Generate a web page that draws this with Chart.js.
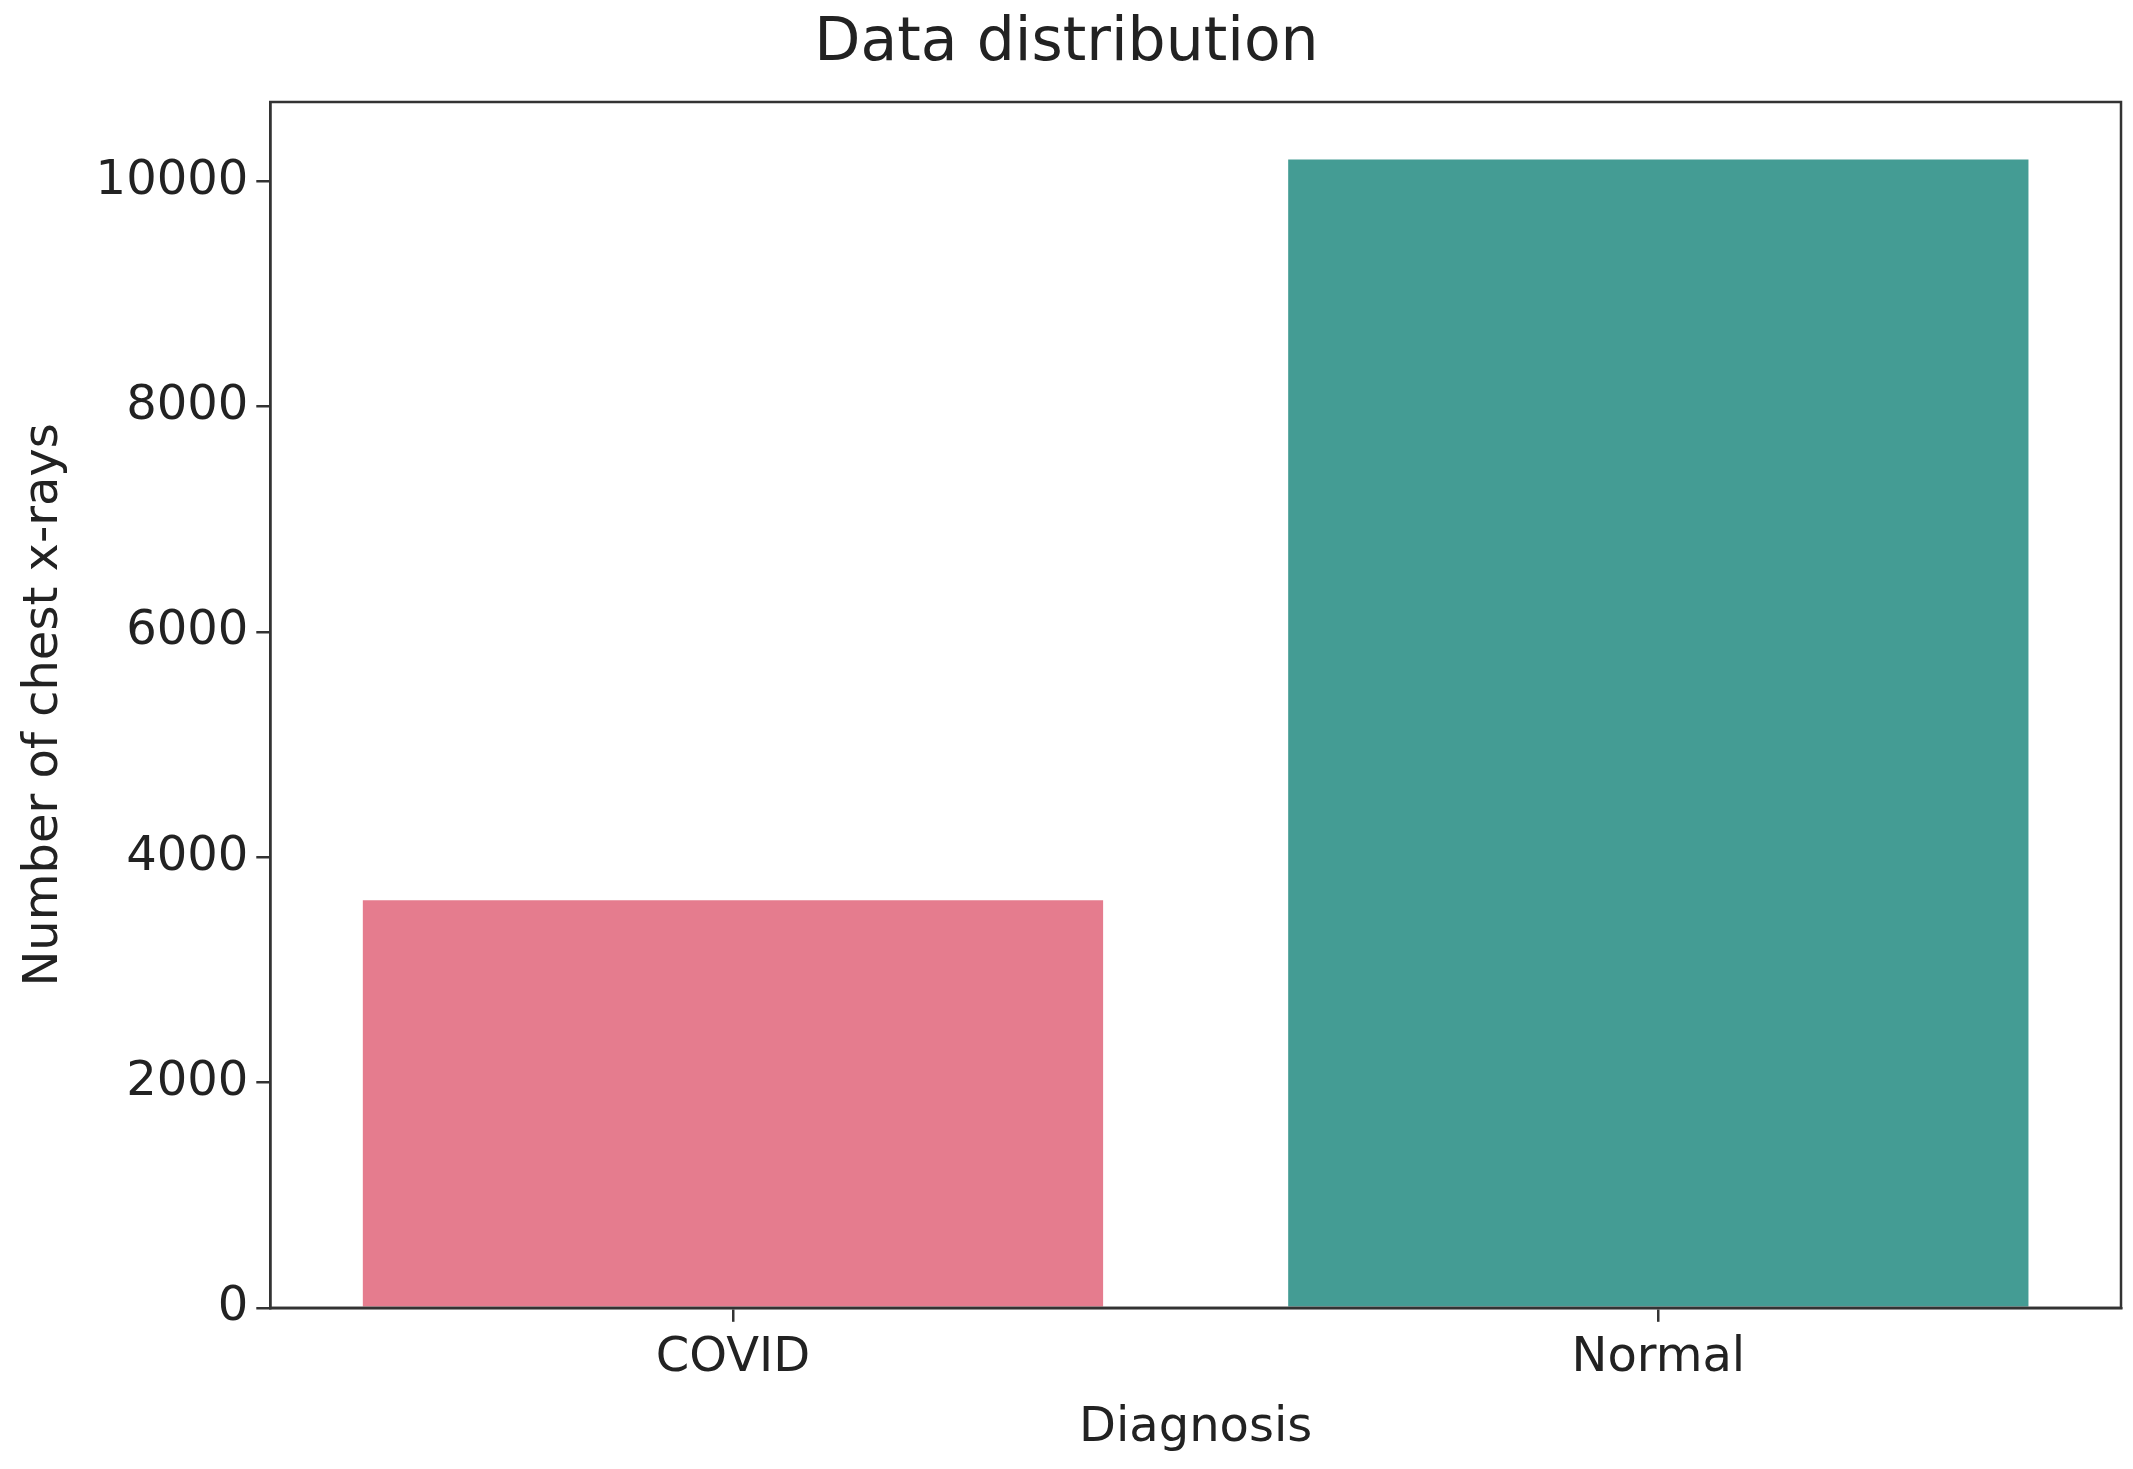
<!DOCTYPE html>
<html><head><meta charset="utf-8">
<script src="https://cdn.jsdelivr.net/npm/chart.js@4"></script>
<style>html,body{margin:0;background:#fff}#w{width:2133px;height:1469px}</style>
</head><body><div id="w"><canvas id="c"></canvas></div>
<script>
const categories = ["COVID", "Normal"];
const counts = [3616, 10192];
const barColors = ["#e57c8e", "#449c94"];
const yTicks = [0, 2000, 4000, 6000, 8000, 10000];

const frame = {id:'frame', afterDraw(ch){const a=ch.chartArea,x=ch.ctx;x.save();x.strokeStyle='#333';x.lineWidth=2.5;x.strokeRect(a.left,a.top,a.right-a.left,a.bottom-a.top);x.restore();}};
const font = {family:'DejaVu Sans', size:48};
new Chart(document.getElementById('c'), {
  type:'bar',
  data:{labels:categories, datasets:[{data:counts, backgroundColor:barColors, categoryPercentage:0.8, barPercentage:1}]},
  options:{responsive:true, maintainAspectRatio:false, animation:false,
    layout:{padding:{top:8,right:12,bottom:8,left:12}},
    plugins:{legend:{display:false}, tooltip:{enabled:false},
      title:{display:true, text:'Data distribution', color:'#222', font:{family:'DejaVu Sans', size:60, weight:'normal'}, padding:{top:0,bottom:22}}},
    scales:{
      x:{grid:{display:true, offset:false, drawOnChartArea:false, tickLength:14, color:'#333', lineWidth:2.5},
         border:{color:'#333', width:2.5},
         ticks:{color:'#222', font, padding:8},
         title:{display:true, text:'Diagnosis', color:'#222', font, padding:{top:4}}},
      y:{min:0, max:10701.6, afterBuildTicks(s){s.ticks=yTicks.map(v=>({value:v}));},
         grid:{display:true, drawOnChartArea:false, tickLength:14, color:'#333', lineWidth:2.5},
         border:{color:'#333', width:2.5},
         ticks:{color:'#222', font, padding:8, callback:v=>String(v)},
         title:{display:true, text:'Number of chest x-rays', color:'#222', font, padding:{bottom:14}}}
    }},
  plugins:[frame]
});
</script></body></html>
